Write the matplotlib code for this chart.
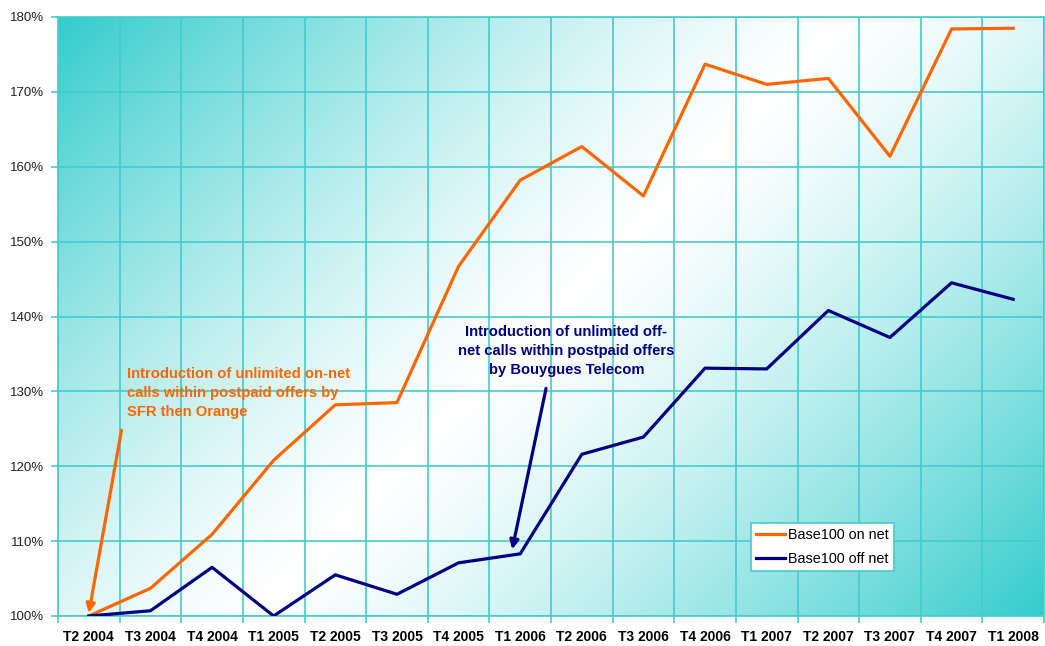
import numpy as np
import matplotlib
matplotlib.use("Agg")
import matplotlib.pyplot as plt
from matplotlib.ticker import FixedLocator

plt.rcParams['font.family'] = ['Liberation Sans', 'DejaVu Sans']

quarters = ["T2 2004", "T3 2004", "T4 2004", "T1 2005", "T2 2005", "T3 2005",
            "T4 2005", "T1 2006", "T2 2006", "T3 2006", "T4 2006", "T1 2007",
            "T2 2007", "T3 2007", "T4 2007", "T1 2008"]
on_net = [100.0, 103.7, 110.9, 120.8, 128.2, 128.5, 146.7, 158.2,
          162.7, 156.1, 173.7, 171.0, 171.8, 161.4, 178.4, 178.5]
off_net = [100.0, 100.7, 106.5, 100.0, 105.5, 102.9, 107.1, 108.3,
           121.6, 123.9, 133.1, 133.0, 140.8, 137.2, 144.5, 142.3]

orange = "#FF6600"
navy = "#000080"
teal = np.array([51, 204, 204]) / 255.0
grid_c = "#45CBCB"

fig = plt.figure(figsize=(10.45, 6.46), dpi=100)
ax = fig.add_axes([58 / 1045, 30 / 646, 986 / 1045, 599 / 646])

x = np.arange(len(quarters))
ax.set_xlim(-0.5, len(quarters) - 0.5)
ax.set_ylim(100, 180)

# 45 degree gradient (in pixels): teal corners, white band through the middle
W, H = 986, 599
X = np.arange(W)[None, :]
Y = np.arange(H)[:, None]
half = (W + H) / 2.0
s = np.abs((X + Y) - half) / half
s = s ** 1.3
img = np.ones((H, W, 3)) * (1 - s[..., None]) + teal[None, None, :] * s[..., None]
ax.imshow(img, extent=(-0.5, len(quarters) - 0.5, 100, 180), aspect='auto',
          origin='upper', zorder=0, interpolation='bilinear')

# grid on category boundaries
ax.xaxis.set_major_locator(FixedLocator(x))
ax.xaxis.set_minor_locator(FixedLocator(np.arange(len(quarters) + 1) - 0.5))
ax.set_xticklabels(quarters, fontweight='bold', fontsize=10)
ax.tick_params(axis='x', which='major', length=0, pad=10)
ax.tick_params(axis='x', which='minor', length=5, color=grid_c, width=1.2)
ax.grid(True, which='minor', axis='x', color=grid_c, lw=1.2, zorder=1)

yt = np.arange(100, 181, 10)
ax.set_yticks(yt)
ax.set_yticklabels(["%d%%" % t for t in yt], fontsize=9.5, color="#222222")
ax.tick_params(axis='y', length=5, color=grid_c, width=1.2, pad=5)
ax.grid(True, which='major', axis='y', color=grid_c, lw=1.2, zorder=1)

for sp in ax.spines.values():
    sp.set_color(grid_c)
    sp.set_linewidth(1.2)

ax.plot(x, on_net, color=orange, lw=2.3, label="Base100 on net", zorder=3)
ax.plot(x, off_net, color=navy, lw=2.3, label="Base100 off net", zorder=3)

# annotations
ax.annotate("", xy=(0.0, 100.4), xytext=(0.53, 124.8),
            arrowprops=dict(arrowstyle='-|>', color=orange, lw=2.3, mutation_scale=13,
                            shrinkA=0, shrinkB=0), zorder=4)
ax.text(0.62, 133.2, "Introduction of unlimited on-net\ncalls within postpaid offers by\nSFR then Orange",
        color=orange, fontsize=10.6, fontweight='bold', ha='left', va='top', linespacing=1.45)

ax.annotate("", xy=(6.87, 108.9), xytext=(7.42, 130.4),
            arrowprops=dict(arrowstyle='-|>', color=navy, lw=2.3, mutation_scale=13,
                            shrinkA=0, shrinkB=0), zorder=4)
ax.text(7.75, 138.9, "Introduction of unlimited off-\nnet calls within postpaid offers\nby Bouygues Telecom",
        color=navy, fontsize=10.6, fontweight='bold', ha='center', va='top', linespacing=1.45,
        multialignment='center')

leg = ax.legend(loc='upper left', bbox_to_anchor=(0.703, 0.155), borderaxespad=0,
                fancybox=False, framealpha=1, edgecolor=grid_c, fontsize=10.4,
                handlelength=2.0, handletextpad=0.2, borderpad=0.35, labelspacing=0.65)
leg.get_frame().set_linewidth(1.2)

fig.savefig("out.png", dpi=100)
